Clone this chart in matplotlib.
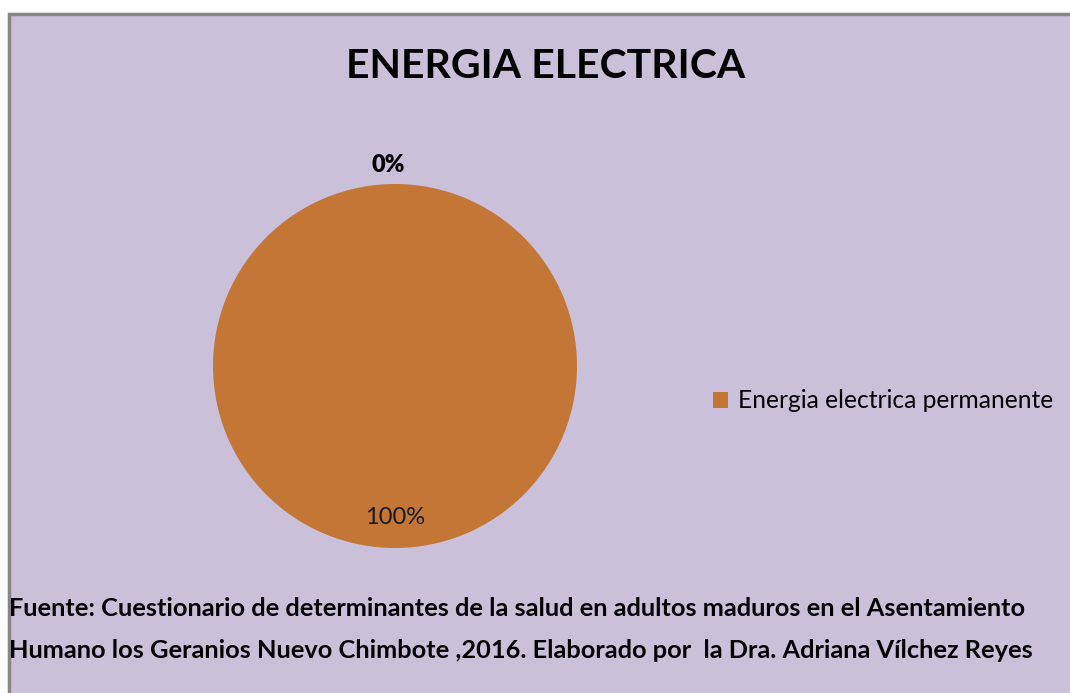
import matplotlib
matplotlib.use('Agg')
import matplotlib.pyplot as plt
import numpy as np
from matplotlib.patches import Rectangle, Patch

# Datos del gráfico
categorias = ["Energia electrica permanente", "Sin energia"]
valores = [100, 0]
colores = ["#C47636", "#C47636"]
etiquetas = ["100%", "0%"]
titulo = "ENERGIA ELECTRICA"
fuente = ["Fuente: Cuestionario de determinantes de la salud en adultos maduros en el Asentamiento",
          "Humano los Geranios Nuevo Chimbote ,2016. Elaborado por  la Dra. Adriana Vílchez Reyes"]

W, H = 1070, 693
fig = plt.figure(figsize=(W / 100, H / 100), dpi=100)
fig.patch.set_facecolor('white')

# Fondo del área del gráfico
fig.patches.append(Rectangle((9 / W, -0.01), 1.02, 1 - 14 / H + 0.01, transform=fig.transFigure,
                             facecolor='#CBC0DA', edgecolor='#868686', linewidth=2.5, zorder=-10))

FONT = ['Lato', 'DejaVu Sans']

# Pastel (centro ~ (395, 366) px, radio ~182 px)
cx, cy, r = 395, 366, 182
ax = fig.add_axes([(cx - r) / W, (H - cy - r) / H, 2 * r / W, 2 * r / H])
ax.set_zorder(5)
wedges, _ = ax.pie(valores, colors=colores, startangle=90, counterclock=False, radius=1,
                   wedgeprops=dict(linewidth=0))
ax.set_xlim(-1, 1)
ax.set_ylim(-1, 1)
ax.axis('off')

for i, (w, lab) in enumerate(zip(wedges, etiquetas)):
    ang = np.deg2rad((w.theta1 + w.theta2) / 2)
    if valores[i] > 0:
        ax.text(0.83 * np.cos(ang), 0.83 * np.sin(ang), lab, ha='center', va='center',
                fontsize=17, family=FONT, color='#1a1a1a', clip_on=False)
    else:
        # etiqueta de sector vacío, fuera del pastel
        ax.text(1.105 * np.cos(ang) - 0.04, 1.105 * np.sin(ang), lab, ha='center', va='center',
                fontsize=17, family=FONT, fontweight='heavy', color='black', clip_on=False)

# Título
fig.text(546 / W, 1 - 67 / H, titulo, ha='center', va='center', fontsize=29.5,
         fontweight='bold', family=FONT, color='black')

# Leyenda
fig.legend(handles=[Patch(facecolor=colores[0], label=categorias[0])],
           loc='center left', bbox_to_anchor=(691 / W, 1 - 401 / H), frameon=False,
           handlelength=0.6, handleheight=0.6, handletextpad=0.4,
           prop=dict(family=FONT, size=17.7))

# Fuente
fig.text(9 / W, 1 - 608 / H, fuente[0], ha='left', va='center', fontsize=18.3,
         fontweight='bold', family=FONT, color='black')
fig.text(9 / W, 1 - 651 / H, fuente[1], ha='left', va='center', fontsize=18.3,
         fontweight='bold', family=FONT, color='black')

fig.savefig('out.png', dpi=100)
